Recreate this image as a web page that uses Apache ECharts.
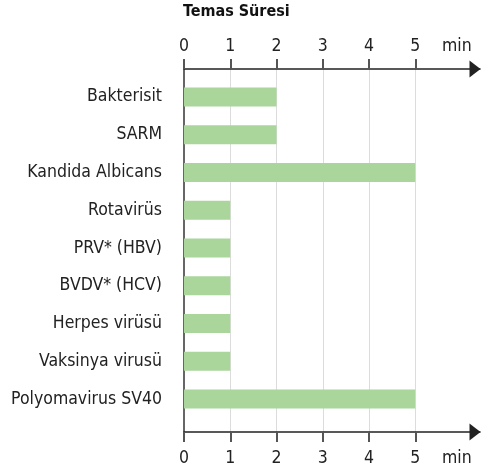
<!DOCTYPE html>
<html>
<head>
<meta charset="utf-8">
<script src="https://cdn.jsdelivr.net/npm/echarts@6/dist/echarts.min.js"></script>
<style>
html,body{margin:0;padding:0;background:#fff}
#main{width:493px;height:472px}
</style>
</head>
<body>
<div id="main"></div>
<script>
// data
var categories = ['Bakterisit', 'SARM', 'Kandida Albicans', 'Rotavirüs', 'PRV* (HBV)', 'BVDV* (HCV)', 'Herpes virüsü', 'Vaksinya virusü', 'Polyomavirus SV40']
var minutes = [2, 2, 5, 1, 1, 1, 1, 1, 5]
var tickValues = [0, 1, 2, 3, 4, 5]
var unitLabel = 'min'

var font = '"Liberation Sans Narrow", "DejaVu Sans Condensed", sans-serif'
var axisMax = 6.4
var labelValues = tickValues.concat([5.9])

function xAxisFor(gridIndex, pos){
  return {
    type: 'value', gridIndex: gridIndex, position: pos, min: 0, max: axisMax,
    axisLine: {show: true, onZero: false, lineStyle: {color: '#222', width: 1.5}, symbol: ['none', 'triangle'], symbolSize: [17, 11], symbolOffset: [0, -5]},
    axisTick: {show: true, length: 10, lineStyle: {color: '#555', width: 2}, customValues: tickValues},
    axisLabel: {show: true, margin: pos == 'top' ? 14 : 17, fontFamily: font, fontSize: 17.5, color: '#222',
      customValues: labelValues,
      formatter: function(v){ return v > 5 ? unitLabel : String(v) }},
    splitLine: {show: pos == 'bottom', lineStyle: {color: '#dcdcdc', width: 1}}
  }
}

var option = {
  animation: false,
  title: {text: 'Temas Süresi', left: 178, top: -1,
    textStyle: {fontFamily: font, fontSize: 16, fontWeight: 'bold', color: '#111'}},
  grid: [
    {left: 184, right: 13, top: 69, bottom: 40},
    {left: 184, right: 13, top: 78, bottom: 54}
  ],
  xAxis: [
    xAxisFor(0, 'top'),
    xAxisFor(0, 'bottom'),
    {type: 'value', gridIndex: 1, min: 0, max: axisMax, show: false}
  ],
  yAxis: [
    {type: 'value', gridIndex: 0, min: 0, max: 1,
      axisLine: {show: true, lineStyle: {color: '#666', width: 2}},
      axisTick: {show: false}, axisLabel: {show: false}, splitLine: {show: false}},
    {type: 'category', gridIndex: 1, data: categories, inverse: true,
      axisLine: {show: false}, axisTick: {show: false},
      axisLabel: {margin: 22, fontFamily: font, fontSize: 17.5, color: '#222'}}
  ],
  series: [{
    type: 'bar', xAxisIndex: 2, yAxisIndex: 1, data: minutes,
    barWidth: 19, itemStyle: {color: '#aad69b'}
  }]
}

var myChart = echarts.init(document.getElementById('main'))
myChart.setOption(option)
</script>
</body>
</html>
